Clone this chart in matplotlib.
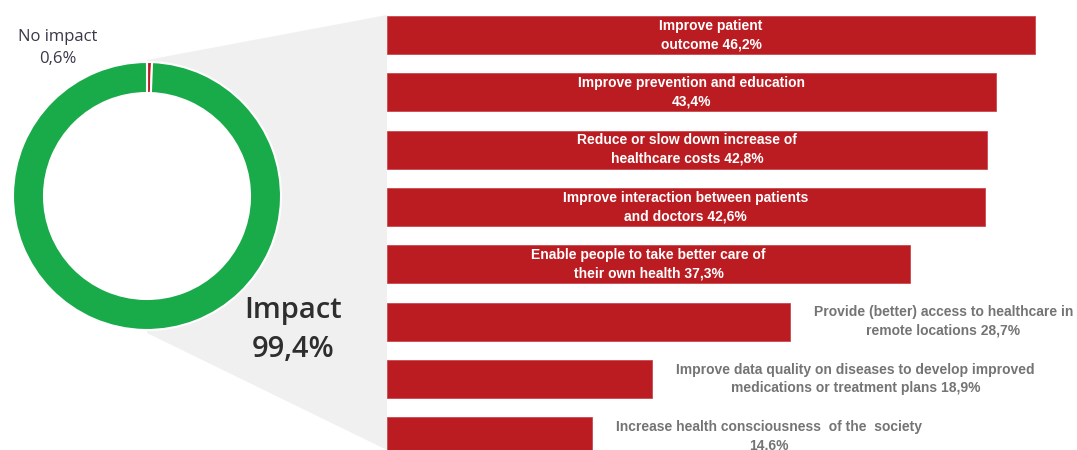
import matplotlib
matplotlib.use('Agg')
import matplotlib.pyplot as plt
from matplotlib.patches import Polygon, Circle

plt.rcParams['font.family'] = ['Liberation Sans Narrow', 'Liberation Sans', 'DejaVu Sans']

# donut data
pie_labels = ['No impact', 'Impact']
pie_values = [0.6, 99.4]

# bar data (top to bottom)
categories = [
    'Improve patient\noutcome',
    'Improve prevention and education\n',
    'Reduce or slow down increase of\nhealthcare costs',
    'Improve interaction between patients\nand doctors',
    'Enable people to take better care of\ntheir own health',
    'Provide (better) access to healthcare in\nremote locations',
    'Improve data quality on diseases to develop improved\nmedications or treatment plans',
    'Increase health consciousness  of the  society\n',
]
values = [46.2, 43.4, 42.8, 42.6, 37.3, 28.7, 18.9, 14.6]
n_inside = 5  # first bars carry their label inside

RED = '#BA1C22'
GREEN = '#19AB4A'
W, H = 1077, 450


def fx(px):
    return px / W


def fy(py):
    return 1 - py / H


def pct(v):
    return '{:.1f}%'.format(v).replace('.', ',')


fig = plt.figure(figsize=(W / 100, H / 100), dpi=100)
fig.patch.set_facecolor('white')

# grey funnel from the donut to the bars
funnel = Polygon([(fx(147), fy(60)), (fx(387), fy(15)), (fx(387), fy(450)), (fx(147), fy(333))],
                 closed=True, transform=fig.transFigure, facecolor='#f0f0f0', edgecolor='none', zorder=-1)
fig.patches.append(funnel)

# donut
cx, cy, r = 147, 196, 134
half = 150
ax_d = fig.add_axes([fx(cx - half), fy(cy + half), 2 * half / W, 2 * half / H], zorder=1)
ax_d.patch.set_alpha(0)
ax_d.add_patch(Circle((0, 0), 1, facecolor='white', edgecolor='none', zorder=0))
ax_d.pie(pie_values, colors=[RED, GREEN], startangle=90, counterclock=False, radius=1,
         wedgeprops=dict(width=1 - 103 / r, edgecolor='white', linewidth=1.5))
ax_d.set_xlim(-half / r, half / r)
ax_d.set_ylim(-half / r, half / r)
ax_d.set_aspect('equal')
ax_d.axis('off')

fig.text(fx(58), fy(48), '{}\n{}'.format(pie_labels[0], pct(pie_values[0])), ha='center', va='center',
         fontsize=12, color='#383848', family=['Open Sans', 'DejaVu Sans'], linespacing=1.45, zorder=5)
fig.text(fx(293), fy(330), '{}\n{}'.format(pie_labels[1], pct(pie_values[1])), ha='center', va='center',
         fontsize=21, color='#2e2e2e', family=['Open Sans', 'DejaVu Sans'], fontweight='semibold',
         linespacing=1.45, zorder=5)

# bars
px_per_pct = 14.03
pitch = 57.3
y0 = 35
ax_b = fig.add_axes([fx(387), 0, 1 - fx(387), 1], zorder=1)
ax_b.patch.set_alpha(0)
ax_b.set_xlim(0, (W - 387) / px_per_pct)
ax_b.set_ylim((H - y0) / pitch, -y0 / pitch)
ax_b.axis('off')

ypos = list(range(len(values)))
ax_b.barh(ypos, values, height=38 / pitch, color=RED, edgecolor='#c94a4e', linewidth=0.6)

for i, (cat, v) in enumerate(zip(categories, values)):
    sep = '' if cat.endswith('\n') else ' '
    label = cat + sep + pct(v)
    if i < n_inside:
        ax_b.text(v / 2, i, label, ha='center', va='center', color='white', fontsize=10,
                  fontweight='bold', linespacing=1.4)
    else:
        ax_b.annotate(label, xy=(v, i), xytext=(24, 0), textcoords='offset pixels',
                      ha='left', va='center', multialignment='center', color='#747474',
                      fontsize=10, fontweight='bold', linespacing=1.4, annotation_clip=False)

fig.savefig('out.png', dpi=100, facecolor='white')
